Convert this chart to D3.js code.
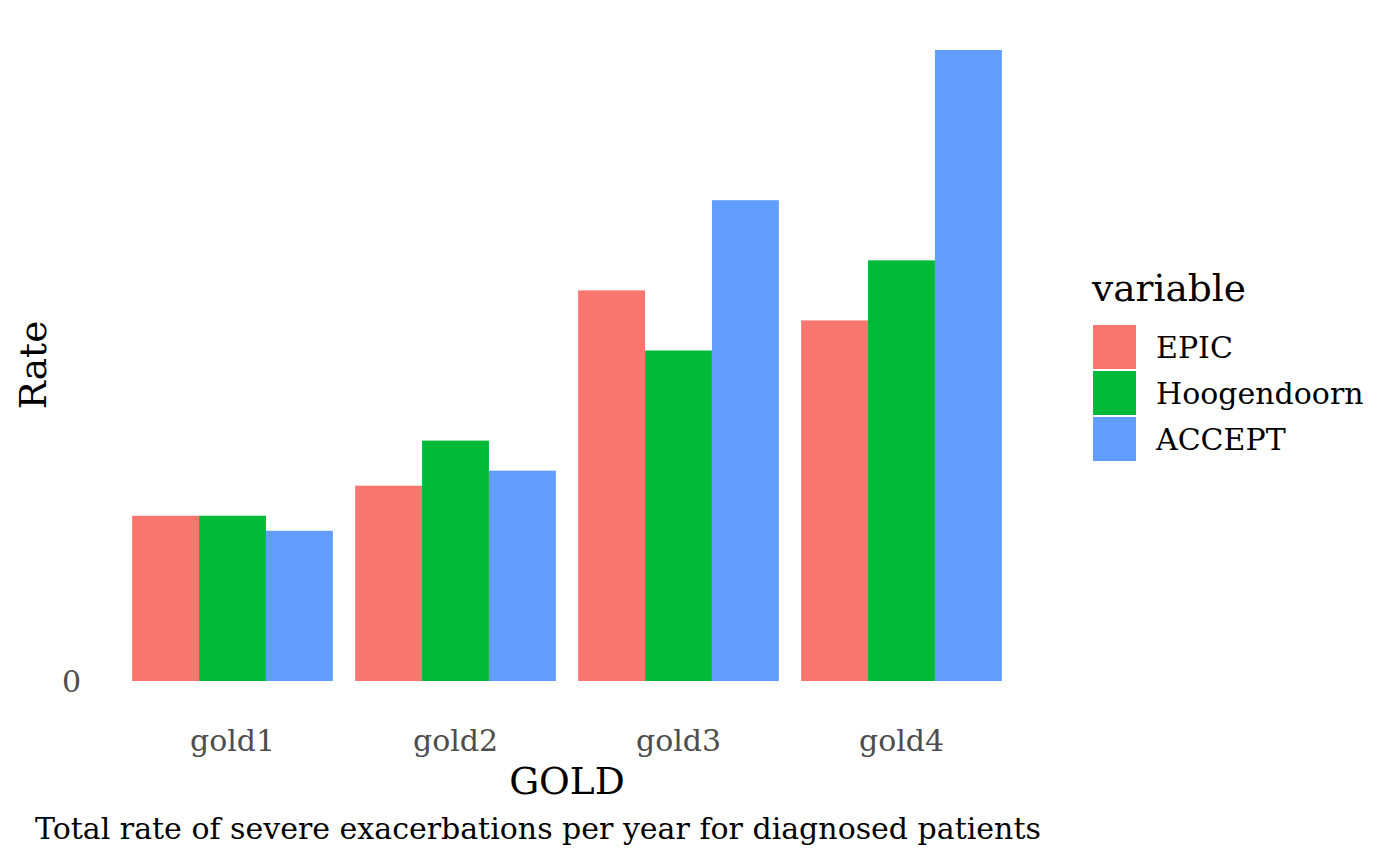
<!DOCTYPE html>
<html><head><meta charset="utf-8">
<script src="https://cdn.jsdelivr.net/npm/d3@7"></script>
<style>
body{margin:0;background:#fff;}
text{font-family:"DejaVu Serif",serif;}
</style></head>
<body><svg id="chart" width="1400" height="865"></svg>
<script>
const categories = ["gold1","gold2","gold3","gold4"];
const seriesNames = ["EPIC","Hoogendoorn","ACCEPT"];
const epic = [0.11,0.13,0.26,0.24];
const hoogendoorn = [0.11,0.16,0.22,0.28];
const accept = [0.10,0.14,0.32,0.42];
const yTicks = [0];
const colors = ["#F8766D","#00BA38","#619CFF"];

const seriesValues = [epic, hoogendoorn, accept];
const svg = d3.select("#chart");

const left = 98.7, right = 1035.3;
const unit = (right-left)/(categories.length-1+1.2);
const xc = d3.scalePoint().domain(categories).range([left+0.6*unit, right-0.6*unit]);
const xs = d3.scaleBand().domain(seriesNames).range([-0.45*unit, 0.45*unit]);
const y = d3.scaleLinear().domain([0,0.42]).range([681,50]);

const g = svg.append("g");
categories.forEach((c,i)=>{
  seriesNames.forEach((s,j)=>{
    g.append("rect")
      .attr("x", xc(c)+xs(s))
      .attr("width", xs.bandwidth())
      .attr("y", y(seriesValues[j][i]))
      .attr("height", y(0)-y(seriesValues[j][i]))
      .attr("fill", colors[j]);
  });
});

const small = 30, big = 37.5;
// y axis ticks
yTicks.forEach(t=>{
  svg.append("text").attr("x",81).attr("y",y(t)).attr("dy","0.36em")
    .attr("text-anchor","end").attr("font-size",small).attr("fill","#4D4D4D").text(t);
});
// x axis labels
categories.forEach(c=>{
  svg.append("text").attr("x",xc(c)).attr("y",751)
    .attr("text-anchor","middle").attr("font-size",small).attr("fill","#4D4D4D").text(c);
});
// axis titles
svg.append("text").attr("x",(left+right)/2).attr("y",794)
  .attr("text-anchor","middle").attr("font-size",big).attr("fill","#000").text("GOLD");
svg.append("text").attr("transform","translate(46,365) rotate(-90)")
  .attr("text-anchor","middle").attr("font-size",big).attr("fill","#000").text("Rate");
// caption
svg.append("text").attr("x",35).attr("y",839)
  .attr("font-size",small).attr("fill","#000").text("Total rate of severe exacerbations per year for diagnosed patients");

// legend
svg.append("text").attr("x",1092).attr("y",301).attr("font-size",big).attr("fill","#000").text("variable");
const ly = d3.scaleBand().domain(seriesNames).range([324,462]);
seriesNames.forEach((s,j)=>{
  svg.append("rect").attr("x",1093).attr("y",ly(s)+1).attr("width",43).attr("height",ly.bandwidth()-2).attr("fill",colors[j]);
  svg.append("text").attr("x",1156).attr("y",ly(s)+ly.bandwidth()/2).attr("dy","0.36em")
    .attr("font-size",small).attr("fill","#000").text(s);
});
</script></body></html>
